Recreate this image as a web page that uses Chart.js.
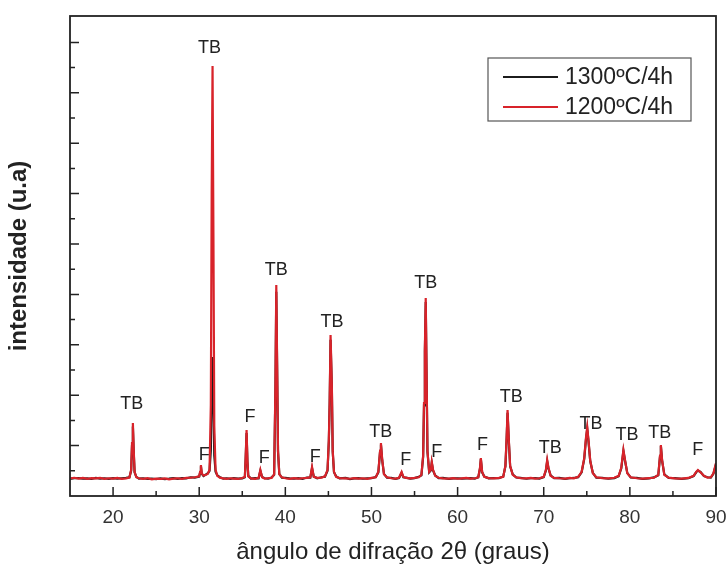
<!DOCTYPE html>
<html>
<head>
<meta charset="utf-8">
<script src="https://cdn.jsdelivr.net/npm/chart.js@4.4.1/dist/chart.umd.min.js"></script>
<style>
  body { margin: 0; background: #fff; }
  canvas { display: block; }
</style>
</head>
<body>
<canvas id="xrd" width="726" height="568"></canvas>
<script>
// 2-theta angles (graus)
const angles = [
  15.0,15.5,16.0,16.5,17.0,17.5,18.0,18.5,19.0,19.5,
  20.0,20.5,21.0,21.5,21.9,22.1,22.2,22.3,22.4,22.5,
  22.7,23.0,23.5,24.0,24.5,25.0,25.5,26.0,26.5,27.0,
  27.5,28.0,28.5,29.0,29.5,30.0,30.1,30.2,30.3,30.5,
  30.8,31.0,31.2,31.35,31.45,31.55,31.65,31.75,31.9,32.1,
  32.4,32.8,33.2,33.6,34.0,34.5,35.0,35.3,35.4,35.5,
  35.6,35.7,36.0,36.5,36.9,37.1,37.3,37.6,38.0,38.4,
  38.7,38.85,38.95,39.05,39.15,39.3,39.6,40.0,40.5,41.0,
  41.5,42.0,42.5,42.9,43.1,43.3,43.7,44.2,44.6,44.9,
  45.05,45.15,45.25,45.4,45.5,45.65,45.9,46.3,47.0,47.5,
  48.0,48.5,49.0,49.5,50.0,50.5,50.8,51.0,51.1,51.25,
  51.45,51.8,52.3,52.8,53.2,53.5,53.7,54.0,54.5,55.0,
  55.5,55.8,56.0,56.1,56.2,56.3,56.4,56.5,56.7,56.9,
  57.0,57.15,57.4,57.8,58.3,59.0,59.5,60.0,60.5,61.0,
  61.5,62.0,62.4,62.6,62.7,62.85,63.1,63.6,64.2,64.8,
  65.3,65.55,65.7,65.8,65.95,66.1,66.4,66.8,67.3,68.0,
  68.5,69.0,69.5,70.0,70.25,70.4,70.55,70.8,71.2,71.8,
  72.5,73.0,73.5,74.0,74.4,74.7,74.9,75.05,75.2,75.4,
  75.7,76.1,76.8,77.5,78.2,78.7,79.0,79.25,79.45,79.7,
  80.1,80.8,81.5,82.2,82.8,83.3,83.5,83.6,83.75,84.0,
  84.5,85.2,86.0,86.8,87.4,87.7,87.9,88.2,88.6,89.0,
  89.4,89.7,90.0
];

// 1200ºC/4h (red)
const int1200 = [
  350,362,345,358,340,355,348,360,342,352,
  346,358,340,350,365,520,1050,1448,900,480,
  372,352,340,355,332,345,338,350,330,345,
  352,340,360,365,372,390,480,615,450,405,
  420,440,520,1800,6000,8532,5200,1400,520,400,
  365,350,340,352,345,338,356,380,800,1310,
  700,390,350,342,360,516,370,345,352,360,
  430,2200,4187,2600,900,430,370,352,340,356,
  345,352,360,372,575,380,360,365,390,520,
  1111,1900,3194,2200,900,480,380,355,350,342,
  356,345,352,340,358,370,480,900,1052,720,
  430,370,352,345,362,476,380,358,350,360,
  372,420,800,1845,2900,3929,2400,900,480,520,
  675,520,400,362,350,345,355,342,350,358,
  345,352,368,560,754,480,380,355,348,360,
  380,600,1200,1706,1100,600,420,372,355,348,
  358,345,352,380,520,714,560,400,360,352,
  346,358,350,380,480,750,1150,1369,1100,700,
  450,372,355,348,362,400,560,913,700,450,
  372,352,345,355,362,420,800,1012,700,420,
  365,350,345,358,400,480,516,470,400,365,
  372,450,655
];

// 1300ºC/4h (black)
const int1300 = [
  340,352,356,344,350,338,360,346,352,340,
  356,344,352,360,370,500,1000,1380,860,470,
  380,345,352,338,346,336,350,334,344,356,
  340,355,350,372,365,385,460,590,440,398,
  430,450,500,900,2000,2758,1900,800,480,410,
  372,345,352,340,356,346,348,372,760,1250,
  680,400,345,355,350,500,378,352,344,366,
  420,2100,4050,2500,880,440,362,358,348,342,
  355,340,366,365,550,388,352,372,384,500,
  1080,1850,3100,2150,880,470,390,348,358,336,
  348,354,342,350,352,376,470,880,1020,700,
  440,362,358,340,356,460,372,364,344,354,
  380,412,780,1800,2850,3850,2350,880,470,510,
  660,505,408,356,358,340,348,352,344,350,
  356,346,374,540,730,470,386,350,356,352,
  386,590,1160,1650,1080,590,428,366,360,342,
  352,354,346,374,505,690,545,408,354,358,
  340,352,358,374,470,730,1120,1330,1080,690,
  460,366,360,342,356,394,545,890,690,458,
  366,358,340,350,368,412,780,990,690,428,
  358,356,340,352,394,470,505,478,394,372,
  366,440,630
];

// phase labels above the peaks
const peakLabels     = ['TB','F','TB','F','F','TB','F','TB','TB','F','TB','F','F','TB','TB','TB','TB','TB','F'];
const labelAngles    = [22.17,30.6,31.2,35.9,37.55,38.94,43.46,45.42,51.09,53.98,56.3,57.57,62.9,66.24,70.75,75.5,79.66,83.48,87.87];
const labelIntensity = [1825,813,8889,1567,754,4484,774,3452,1270,714,4226,873,1012,1964,952,1429,1210,1250,913];

const xMajor = [20, 30, 40, 50, 60, 70, 80, 90];
const xMinor = [25, 35, 45, 55, 65, 75, 85];
const yMajor = [1000, 2000, 3000, 4000, 5000, 6000, 7000, 8000, 9000];
const yMinor = [500, 1500, 2500, 3500, 4500, 5500, 6500, 7500, 8500];

const FONT = "'Liberation Sans', Arial, sans-serif";

const decor = {
  id: 'decor',
  afterDatasetsDraw(chart) {
    const {ctx, chartArea: a, scales: {x, y}} = chart;
    ctx.save();
    // inward ticks
    ctx.strokeStyle = '#222';
    ctx.lineWidth = 1.5;
    ctx.beginPath();
    xMajor.forEach(v => { const p = x.getPixelForValue(v); ctx.moveTo(p, a.bottom); ctx.lineTo(p, a.bottom - 9); });
    xMinor.forEach(v => { const p = x.getPixelForValue(v); ctx.moveTo(p, a.bottom); ctx.lineTo(p, a.bottom - 5); });
    yMajor.forEach(v => { const p = y.getPixelForValue(v); ctx.moveTo(a.left, p); ctx.lineTo(a.left + 9, p); });
    yMinor.forEach(v => { const p = y.getPixelForValue(v); ctx.moveTo(a.left, p); ctx.lineTo(a.left + 5, p); });
    ctx.stroke();
    // frame
    ctx.lineWidth = 1.8;
    ctx.strokeRect(a.left, a.top, a.right - a.left, a.bottom - a.top);

    // peak labels
    ctx.fillStyle = '#222';
    ctx.font = '18px ' + FONT;
    ctx.textAlign = 'center';
    ctx.textBaseline = 'middle';
    peakLabels.forEach((t, i) => {
      ctx.fillText(t, x.getPixelForValue(labelAngles[i]), y.getPixelForValue(labelIntensity[i]));
    });

    // legend box
    const bx = 488, by = 58, bw = 203, bh = 63;
    ctx.strokeStyle = '#555';
    ctx.lineWidth = 1.2;
    ctx.strokeRect(bx, by, bw, bh);
    ctx.font = '23px ' + FONT;
    ctx.textAlign = 'left';
    const rows = [chart.data.datasets[0], chart.data.datasets[1]];
    rows.forEach((ds, i) => {
      const ly = 77 + i * 30;
      ctx.strokeStyle = ds.borderColor;
      ctx.lineWidth = 1.8;
      ctx.beginPath();
      ctx.moveTo(503, ly);
      ctx.lineTo(558, ly);
      ctx.stroke();
      ctx.fillStyle = '#222';
      ctx.fillText(ds.label, 565, ly + 1);
    });
    ctx.restore();
  }
};

const toPoints = vals => angles.map((a, i) => ({x: a, y: vals[i]}));

new Chart(document.getElementById('xrd'), {
  type: 'line',
  data: {
    datasets: [
      {label: '1300ºC/4h', data: toPoints(int1300), borderColor: '#1c1c1c', borderWidth: 2.2, pointRadius: 0, order: 1},
      {label: '1200ºC/4h', data: toPoints(int1200), borderColor: '#d8232a', borderWidth: 2.2, pointRadius: 0, order: 0}
    ]
  },
  options: {
    responsive: false,
    animation: false,
    layout: {padding: {top: 16, right: 10, left: 0, bottom: 0}},
    plugins: {legend: {display: false}, tooltip: {enabled: false}},
    scales: {
      x: {
        type: 'linear',
        min: 15,
        max: 90,
        afterBuildTicks: s => { s.ticks = xMajor.map(v => ({value: v})); },
        afterFit: s => { s.height = 72; s.paddingLeft = 0; s.paddingRight = 0; },
        grid: {display: false, drawTicks: false},
        border: {display: false},
        ticks: {color: '#333', font: {family: FONT, size: 19}, padding: 10, maxRotation: 0},
        title: {display: true, text: 'ângulo de difração 2θ (graus)', color: '#222',
                font: {family: FONT, size: 24}, padding: {top: 0, bottom: 1}}
      },
      y: {
        min: 0,
        max: 9524,
        afterFit: s => { s.width = 70; s.paddingTop = 0; s.paddingBottom = 0; },
        grid: {display: false, drawTicks: false},
        border: {display: false},
        ticks: {display: false},
        title: {display: true, text: 'intensidade (u.a)', color: '#222',
                font: {family: FONT, size: 24, weight: 'bold'}, padding: {top: 5, bottom: 0}}
      }
    }
  },
  plugins: [decor]
});
</script>
</body>
</html>
